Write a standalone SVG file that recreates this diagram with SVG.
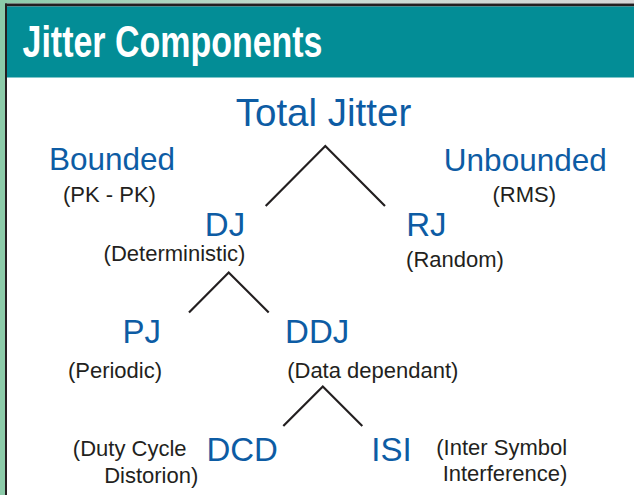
<svg xmlns="http://www.w3.org/2000/svg" width="634" height="495" viewBox="0 0 634 495">
  <defs>
    <linearGradient id="topband" x1="0" y1="0" x2="1" y2="0">
      <stop offset="0" stop-color="#8ccba9"/>
      <stop offset="0.5" stop-color="#c9dcd2"/>
      <stop offset="1" stop-color="#d6d6d6"/>
    </linearGradient>
    <style>
      .frame { fill: #231f20; }
      .blue { font-family: "Liberation Sans", Arial, sans-serif; fill: #0d5ca4; text-anchor: middle; }
      .node { font-size: 33px; }
      .sub { font-size: 31.5px; }
      .note { font-family: "Liberation Sans", Arial, sans-serif; font-size: 22px; fill: #231f20; text-anchor: middle; }
      .conn { fill: none; stroke: #231f20; stroke-width: 2.2; stroke-linecap: butt; stroke-linejoin: miter; }
    </style>
  </defs>

  <!-- background & frame -->
  <rect x="0" y="0" width="634" height="495" fill="#ffffff"/>
  <rect x="0" y="0" width="634" height="3.5" fill="url(#topband)"/>
  <rect x="0" y="0" width="5" height="495" fill="#8ccba9"/>
  <rect class="frame" x="5" y="3.5" width="629" height="3"/>
  <rect class="frame" x="5" y="3.5" width="2" height="491.5"/>
  <rect x="7" y="6.5" width="627" height="71" fill="#038d96"/>

  <g id="title">
    <text x="22.5" y="56.5" font-family="'Liberation Sans Narrow', 'Liberation Sans', Arial, sans-serif" font-weight="bold" font-size="44" fill="#ffffff" textLength="300" lengthAdjust="spacingAndGlyphs">Jitter Components</text>
  </g>

  <g id="connectors">
    <polyline class="conn" points="265.7,206 325.3,146 385,206"/>
    <polyline class="conn" points="189,312.5 228.7,272.5 268.7,312.5"/>
    <polyline class="conn" points="283.3,426 322.8,386.5 362.3,426"/>
  </g>

  <g id="total-jitter">
    <text class="blue" x="323.5" y="126" font-size="38.5">Total Jitter</text>
  </g>

  <g id="bounded">
    <text class="blue sub" x="112" y="170">Bounded</text>
    <text class="note" x="109.5" y="201.5">(PK - PK)</text>
  </g>

  <g id="unbounded">
    <text class="blue sub" x="525.3" y="170.5">Unbounded</text>
    <text class="note" x="524.3" y="201.5">(RMS)</text>
  </g>

  <g id="dj">
    <text class="blue node" x="225" y="236">DJ</text>
    <text class="note" x="174.5" y="260.5">(Deterministic)</text>
  </g>

  <g id="rj">
    <text class="blue node" x="426.3" y="236">RJ</text>
    <text class="note" x="455" y="266.5">(Random)</text>
  </g>

  <g id="pj">
    <text class="blue node" x="141.7" y="342.7">PJ</text>
    <text class="note" x="115" y="378.3">(Periodic)</text>
  </g>

  <g id="ddj">
    <text class="blue node" x="317.2" y="342.7">DDJ</text>
    <text class="note" x="372.8" y="378.3">(Data dependant)</text>
  </g>

  <g id="dcd">
    <text class="blue node" x="242.2" y="461">DCD</text>
    <text class="note" x="129.7" y="456">(Duty Cycle</text>
    <text class="note" x="151.2" y="483">Distorion)</text>
  </g>

  <g id="isi">
    <text class="blue node" x="391.5" y="461">ISI</text>
    <text class="note" x="501.7" y="454.5">(Inter Symbol</text>
    <text class="note" x="505" y="480.5">Interference)</text>
  </g>
</svg>
